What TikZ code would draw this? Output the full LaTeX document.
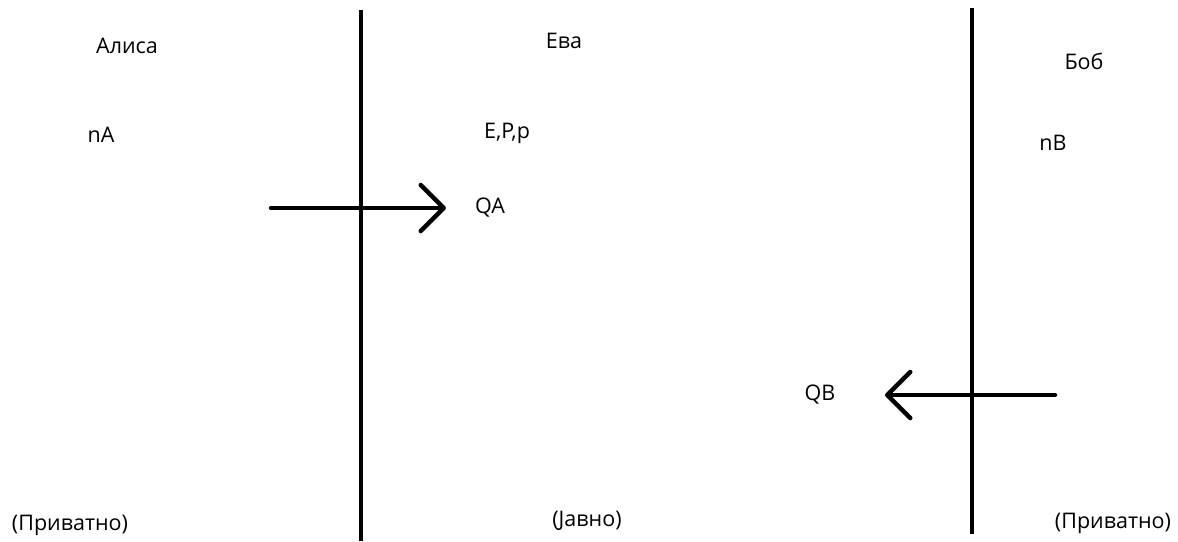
\documentclass[tikz,border=0pt]{standalone}
\usepackage{fontspec}
\setmainfont{Open Sans}
\usetikzlibrary{arrows.meta}
\begin{document}
\begin{tikzpicture}[x=1pt,y=-1pt,
  lbl/.style={font=\fontsize{21.5}{25}\selectfont, inner sep=0pt, text=black},
  wall/.style={line width=4.5pt},
  msg/.style={line width=4.5pt, line cap=round, -{Straight Barb[length=23pt,width=46pt,line width=4.5pt,round]}}]
\useasboundingbox (0,0) rectangle (1178,541);
% walls
\coordinate (w1t) at (361,10);
\coordinate (w1b) at (361,541);
\coordinate (w2t) at (972,8);
\coordinate (w2b) at (972,534);
\draw[wall] (w1t) -- (w1b);
\draw[wall] (w2t) -- (w2b);
% labels
\node[lbl] (alice) at (127,46) {Алиса};
\node[lbl] (eve) at (564,41) {Ева};
\node[lbl] (bob) at (1084,61) {Боб};
\node[lbl] (nA) at (101,135) {nA};
\node[lbl] (EPp) at (507,133) {E,P,p};
\node[lbl] (nB) at (1053,143) {nB};
\node[lbl] (QA) at (490,208) {QA};
\node[lbl] (QB) at (820,395) {QB};
\node[lbl] (privL) at (70,525) {(Приватно)};
\node[lbl] (pub) at (587,521) {(Јавно)};
\node[lbl] (privR) at (1113,523) {(Приватно)};
% arrows
\coordinate (a1s) at (271,208);
\coordinate (a1e) at (446,208);
\coordinate (a2s) at (1055,395);
\coordinate (a2e) at (885,395);
\draw[msg] (a1s) -- (a1e);
\draw[msg] (a2s) -- (a2e);
\end{tikzpicture}
\end{document}
